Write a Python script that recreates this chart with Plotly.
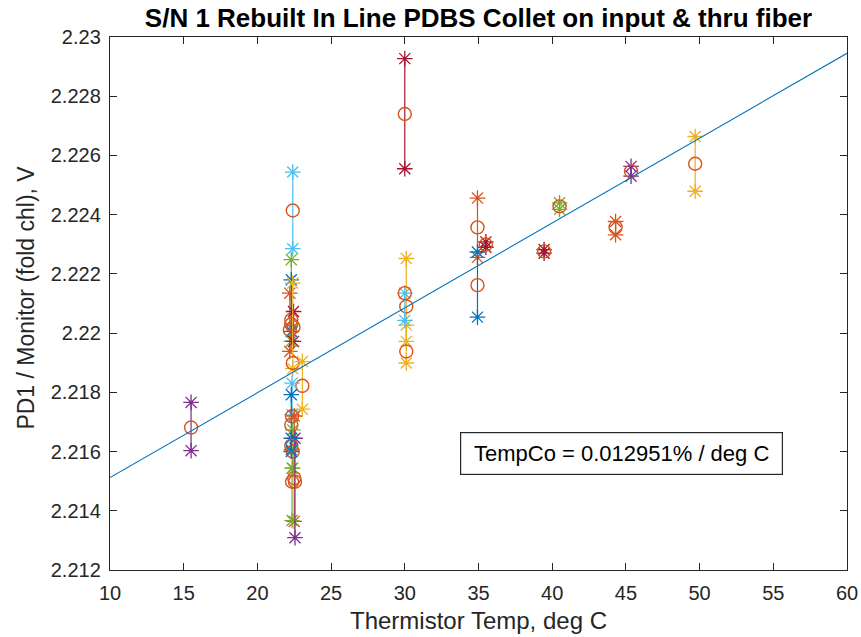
import plotly.graph_objects as go

# ---------------- data ----------------
title_text = "S/N 1 Rebuilt In Line PDBS Collet on input &amp; thru fiber"
x_label = "Thermistor Temp, deg C"
y_label = "PD1 / Monitor (fold chl), V"
note_text = "TempCo = 0.012951% / deg C"

x_ticks = [10, 15, 20, 25, 30, 35, 40, 45, 50, 55, 60]
y_ticks = [2.212, 2.214, 2.216, 2.218, 2.22, 2.222, 2.224, 2.226, 2.228, 2.23]
y_tick_labels = ["2.212", "2.214", "2.216", "2.218", "2.22", "2.222", "2.224", "2.226", "2.228", "2.23"]

# each measurement group: temperature, max reading, min reading, mean reading, colour name
group_temp = [15.5, 22.40, 22.30, 22.30, 22.20, 22.45, 22.40, 23.05, 22.35, 22.30, 22.40, 22.50, 22.35, 22.55, 22.30,
              30.0, 30.1, 30.1, 30.0, 34.93, 34.93, 35.5, 39.45, 40.5, 44.3, 45.35, 49.7]
group_max = [2.21766, 2.22544, 2.22248, 2.22180, 2.22135, 2.22073, 2.22169, 2.21904, 2.21831, 2.21792, 2.21673, 2.21720, 2.21544, 2.21645, 2.21645,
             2.22927, 2.22252, 2.22027, 2.22135, 2.22456, 2.22274, 2.22308, 2.22282, 2.22440, 2.22377, 2.22563, 2.22664]
group_min = [2.21603, 2.22285, 2.21973, 2.22006, 2.21938, 2.21972, 2.21880, 2.21743, 2.21724, 2.21606, 2.21544, 2.21364, 2.21367, 2.21309, 2.21600,
             2.22555, 2.21972, 2.21899, 2.22043, 2.22256, 2.22054, 2.22290, 2.22270, 2.22418, 2.22332, 2.22530, 2.22479]
group_mean = [2.21681, 2.22414, 2.22045, 2.22030, 2.22011, 2.22020, 2.21899, 2.21822, 2.21719, 2.21690, 2.21600, 2.21510, 2.21498, 2.21498, 2.21620,
              2.22740, 2.22090, 2.21938, 2.22135, 2.22357, 2.22162, 2.22299, 2.22276, 2.22428, 2.22357, 2.22546, 2.22572]
group_color = ["purple", "lightblue", "green", "blue", "orange", "darkred", "yellow", "yellow", "lightblue", "blue", "green", "orange", "green", "purple", "blue",
               "darkred", "yellow", "yellow", "lightblue", "orange", "blue", "darkred", "darkred", "green", "orange", "purple", "yellow"]

# linear fit end points
fit_x = [10, 60]
fit_y = [2.21512, 2.22945]

palette = {
    "blue": "#0072BD", "orange": "#D95319", "yellow": "#EDB120", "purple": "#7E2F8E",
    "green": "#77AC30", "lightblue": "#4DBEEE", "darkred": "#A2142F",
}
mean_color = "#D95319"

FONT = "Liberation Sans, Arial, Helvetica, sans-serif"
AXC = "#262626"

fig = go.Figure()

for t, hi, lo, mu, c in zip(group_temp, group_max, group_min, group_mean, group_color):
    col = palette[c]
    fig.add_trace(go.Scatter(
        x=[t, t], y=[hi, lo], mode="lines+markers",
        line=dict(color=col, width=1.2),
        marker=dict(symbol="asterisk-open", size=13, color=col, line=dict(color=col, width=1.3)),
        showlegend=False, hoverinfo="skip"))
    fig.add_trace(go.Scatter(
        x=[t], y=[mu], mode="markers",
        marker=dict(symbol="circle-open", size=13, color=mean_color, line=dict(color=mean_color, width=1.4)),
        showlegend=False, hoverinfo="skip"))

fig.add_trace(go.Scatter(x=fit_x, y=fit_y, mode="lines", line=dict(color="#0072BD", width=1.1),
                         showlegend=False, hoverinfo="skip"))

axis_common = dict(
    showgrid=False, zeroline=False, showline=True, linecolor=AXC, linewidth=1.4,
    mirror="ticks", ticks="inside", ticklen=7, tickwidth=1.2, tickcolor=AXC,
    tickfont=dict(family=FONT, size=20, color=AXC), automargin=False,
)

fig.update_xaxes(range=[10, 60], tickvals=x_ticks, ticklabelstandoff=5, **axis_common)
fig.update_yaxes(range=[2.212, 2.23], tickvals=y_ticks, ticktext=y_tick_labels, ticklabelstandoff=4, **axis_common)

fig.add_annotation(xref="paper", yref="paper", x=0.5, y=-0.094, text=x_label, showarrow=False,
                   font=dict(family=FONT, size=24, color=AXC), xanchor="center", yanchor="middle")
fig.add_annotation(xref="paper", yref="paper", x=-0.114, y=0.511, text=y_label, showarrow=False, textangle=-90,
                   font=dict(family=FONT, size=23, color=AXC), xanchor="center", yanchor="middle")

fig.add_annotation(xref="x", yref="y", x=33.74, y=2.21666, xanchor="left", yanchor="top",
                   text=note_text, showarrow=False, align="center",
                   width=305, height=25, borderpad=8, bordercolor=AXC, borderwidth=1.2,
                   bgcolor="white", font=dict(family=FONT, size=22, color="black"))

fig.update_layout(
    width=861, height=637,
    margin=dict(l=110, r=14, t=37, b=67, autoexpand=False),
    paper_bgcolor="white", plot_bgcolor="white",
    title=dict(text="<b>" + title_text + "</b>", x=0.5, xref="paper", y=0.972, yref="container",
               xanchor="center", yanchor="middle", automargin=False,
               font=dict(family=FONT, size=26, color="black")),
)

fig.write_html("out.html")
